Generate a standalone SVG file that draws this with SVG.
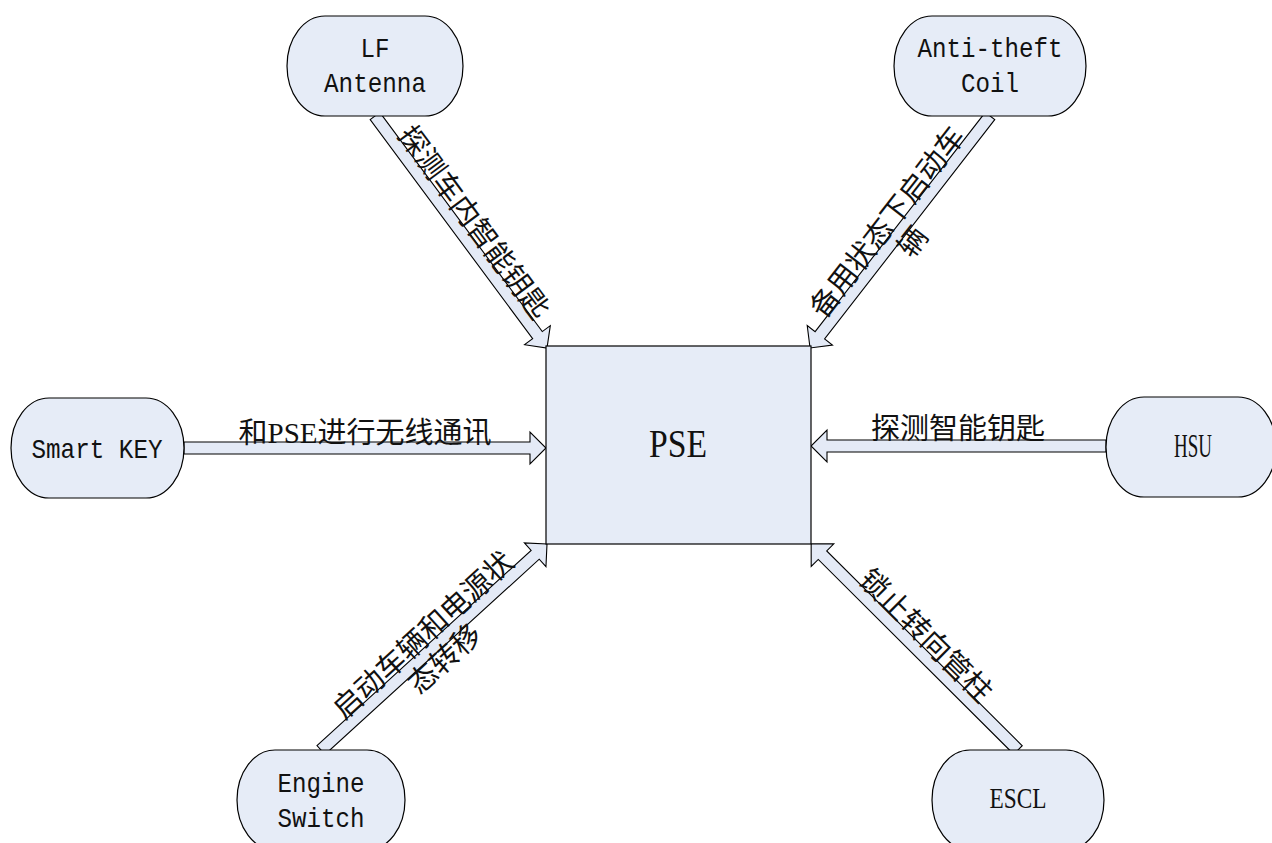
<svg xmlns="http://www.w3.org/2000/svg" width="1272" height="843" viewBox="0 0 1272 843">
  <style>
    .node { fill: #e6ecf7; stroke: #000; stroke-width: 1.2; }
    .arrow { fill: #e4eaf6; stroke: #000; stroke-width: 1.1; stroke-linejoin: miter; }
    .mono { font-family: "Liberation Mono", "DejaVu Sans Mono", monospace; font-size: 28px; fill: #111; text-anchor: middle; }
    .serif { font-family: "Liberation Serif", "DejaVu Serif", serif; fill: #111; text-anchor: middle; }
    .cjk { font-family: "Noto Sans CJK SC", sans-serif; font-size: 29px; fill: #111; text-anchor: middle; }
    .lat { font-family: "Liberation Serif", serif; }
  </style>

  <!-- block arrows with their labels -->
  <g id="connectors">
    <!-- LF Antenna to PSE -->
    <polygon class="arrow" transform="translate(375,116) rotate(53.45)" points="0,-6 272.8,-6 272.8,-16 288.8,0 272.8,16 272.8,6 0,6"/>
    <text class="cjk" transform="translate(461,232) rotate(53.45)" x="0" y="-6">探测车内智能钥匙</text>

    <!-- Anti-theft Coil to PSE -->
    <polygon class="arrow" transform="translate(990,116) rotate(127.8)" points="0,-6 277.6,-6 277.6,-16 293.6,0 277.6,16 277.6,6 0,6"/>
    <g transform="translate(900,232) rotate(-52.2)">
      <text class="cjk" x="0" y="-6">备用状态下启动车</text>
      <text class="cjk" x="0" y="26">辆</text>
    </g>

    <!-- Smart KEY to PSE -->
    <polygon class="arrow" transform="translate(184,448)" points="0,-6 346,-6 346,-16 362,0 346,16 346,6 0,6"/>
    <text class="cjk" transform="translate(365,448)" x="0" y="-5">和<tspan class="lat">PSE</tspan>进行无线通讯</text>

    <!-- HSU to PSE -->
    <polygon class="arrow" transform="translate(1106,446) rotate(180)" points="0,-6 279,-6 279,-16 295,0 279,16 279,6 0,6"/>
    <text class="cjk" transform="translate(958,446)" x="0" y="-7">探测智能钥匙</text>

    <!-- Engine Switch to PSE -->
    <polygon class="arrow" transform="translate(321,750) rotate(-42.35)" points="0,-6 289.8,-6 289.8,-16 305.8,0 289.8,16 289.8,6 0,6"/>
    <g transform="translate(434,647) rotate(-42.35)">
      <text class="cjk" x="0" y="-6">启动车辆和电源状</text>
      <text class="cjk" x="0" y="26">态转移</text>
    </g>

    <!-- ESCL to PSE -->
    <polygon class="arrow" transform="translate(1018,750) rotate(-135.1)" points="0,-6 276,-6 276,-16 292,0 276,16 276,6 0,6"/>
    <text class="cjk" transform="translate(914.5,647) rotate(44.9)" x="0" y="-6">锁止转向管柱</text>
  </g>

  <g id="pse">
    <rect class="node" x="546" y="346" width="265" height="198"/>
    <text class="serif" x="678" y="457" font-size="40" textLength="58" lengthAdjust="spacingAndGlyphs">PSE</text>
  </g>

  <g id="lf-antenna">
    <rect class="node" x="287" y="16" width="176" height="100" rx="38" ry="50"/>
    <text class="mono" x="375" y="57" textLength="29" lengthAdjust="spacingAndGlyphs">LF</text>
    <text class="mono" x="375" y="92" textLength="102" lengthAdjust="spacingAndGlyphs">Antenna</text>
  </g>

  <g id="anti-theft-coil">
    <rect class="node" x="894" y="16" width="192" height="100" rx="38" ry="50"/>
    <text class="mono" x="990" y="57" textLength="145" lengthAdjust="spacingAndGlyphs">Anti-theft</text>
    <text class="mono" x="990" y="92" textLength="58" lengthAdjust="spacingAndGlyphs">Coil</text>
  </g>

  <g id="smart-key">
    <rect class="node" x="11" y="398" width="173" height="100" rx="38" ry="50"/>
    <text class="mono" x="97" y="458" textLength="131" lengthAdjust="spacingAndGlyphs">Smart KEY</text>
  </g>

  <g id="hsu">
    <rect class="node" x="1106" y="397" width="170" height="100" rx="38" ry="50"/>
    <text class="serif" x="1193" y="457" font-size="33" textLength="38" lengthAdjust="spacingAndGlyphs">HSU</text>
  </g>

  <g id="engine-switch">
    <rect class="node" x="237" y="750" width="168" height="100" rx="38" ry="50"/>
    <text class="mono" x="321" y="792" textLength="87" lengthAdjust="spacingAndGlyphs">Engine</text>
    <text class="mono" x="321" y="827" textLength="87" lengthAdjust="spacingAndGlyphs">Switch</text>
  </g>

  <g id="escl">
    <rect class="node" x="932" y="750" width="172" height="100" rx="38" ry="50"/>
    <text class="serif" x="1018" y="808" font-size="30" textLength="57" lengthAdjust="spacingAndGlyphs">ESCL</text>
  </g>
</svg>
